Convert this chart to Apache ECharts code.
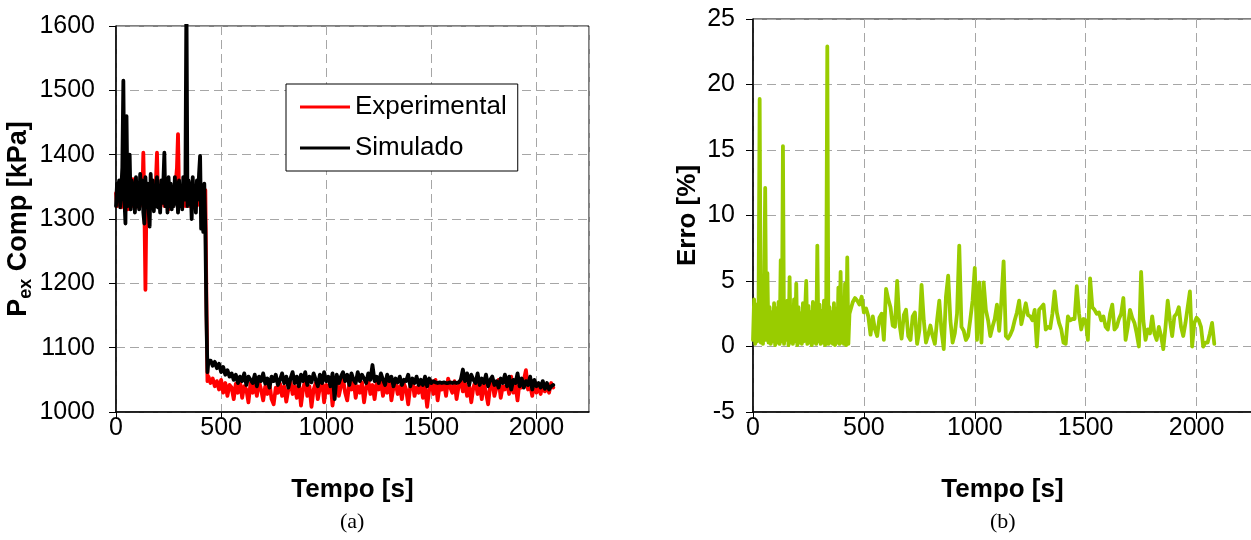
<!DOCTYPE html>
<html>
<head>
<meta charset="utf-8">
<script src="https://cdn.jsdelivr.net/npm/echarts@6/dist/echarts.min.js"></script>
<style>
html,body{margin:0;padding:0;background:#fff;}
#chart{width:1251px;height:540px;}
</style>
</head>
<body>
<div id="chart"></div>
<script>
// ---- sample times [s] ----
const timeDense = [0,5,10,15,20,25,30,35,40,45,50,55,60,65,70,75,80,85,90,95,
  100,105,110,115,120,125,130,135,140,145,150,155,160,165,170,175,180,185,190,195,
  200,205,210,215,220,225,230,235,240,245,250,255,260,265,270,275,280,285,290,295,
  300,305,310,315,320,325,330,335,340,345,350,355,360,365,370,375,380,385,390,395,
  400,405,410,415,420,425,430,435,440];
const timeCoarse = [450,460,470,480,490,500,510,520,530,540,
  550,560,570,580,590,600,610,620,630,640,
  650,660,670,680,690,700,710,720,730,740,
  750,760,770,780,790,800,810,820,830,840,
  850,860,870,880,890,900,910,920,930,940,
  950,960,970,980,990,1000,1010,1020,1030,1040,
  1050,1060,1070,1080,1090,1100,1110,1120,1130,1140,
  1150,1160,1170,1180,1190,1200,1210,1220,1230,1240,
  1250,1260,1270,1280,1290,1300,1310,1320,1330,1340,
  1350,1360,1370,1380,1390,1400,1410,1420,1430,1440,
  1450,1460,1470,1480,1490,1500,1510,1520,1530,1540,
  1550,1560,1570,1580,1590,1600,1610,1620,1630,1640,
  1650,1660,1670,1680,1690,1700,1710,1720,1730,1740,
  1750,1760,1770,1780,1790,1800,1810,1820,1830,1840,
  1850,1860,1870,1880,1890,1900,1910,1920,1930,1940,
  1950,1960,1970,1980,1990,2000,2010,2020,2030,2040,
  2050,2060,2070,2080];

// ---- Pex Comp [kPa], experimental ----
const expDense = [1340,1320,1355,1330,1345,1318,1360,1325,1350,1322,
  1340,1315,1355,1330,1345,1320,1362,1328,1348,1318,
  1352,1325,1345,1320,1358,1330,1403,1320,1190,1330,
  1350,1322,1345,1318,1355,1325,1348,1320,1360,1403,
  1330,1350,1318,1345,1325,1358,1320,1350,1328,1345,
  1315,1355,1325,1348,1320,1350,1330,1360,1380,1432,
  1335,1350,1322,1345,1328,1340,1320,1345,1325,1355,
  1320,1348,1330,1352,1318,1345,1328,1355,1322,1350,
  1330,1345,1325,1350,1340,1345,1180,1048,1055];
const expCoarse = [1045,1052,1040,1048,1035,1050,1030,1045,1025,1042,
  1038,1020,1044,1030,1048,1022,1040,1035,1015,1045,
  1030,1042,1025,1048,1035,1018,1040,1028,1045,1020,
  1012,1038,1030,1044,1025,1040,1016,1035,1048,1028,
  1040,1022,1045,1010,1036,1050,1025,1040,1008,1035,
  1045,1020,1038,1050,1015,1042,1030,1048,1010,1036,
  1044,1025,1040,1052,1030,1018,1045,1035,1050,1022,
  1040,1030,1046,1015,1038,1050,1028,1042,1020,1045,
  1035,1048,1025,1040,1030,1052,1018,1038,1045,1028,
  1040,1020,1044,1035,1012,1040,1048,1025,1038,1030,
  1045,1022,1040,1008,1035,1048,1028,1050,1018,1042,
  1035,1045,1025,1052,1038,1030,1048,1020,1040,1050,
  1032,1045,1025,1040,1015,1038,1048,1028,1042,1020,
  1045,1030,1012,1040,1048,1025,1038,1050,1022,1040,
  1035,1045,1028,1055,1030,1042,1018,1048,1038,1050,
  1065,1035,1042,1025,1048,1030,1040,1028,1045,1032,
  1040,1030,1045,1038];

// ---- Pex Comp [kPa], simulated ----
const simDense = [1320,1355,1330,1360,1318,1345,1380,1515,1330,1293,
  1460,1320,1350,1400,1315,1360,1325,1355,1310,1365,
  1320,1350,1315,1370,1330,1360,1310,1293,1365,1320,
  1355,1315,1288,1370,1325,1360,1312,1350,1320,1365,
  1318,1345,1310,1360,1325,1355,1403,1320,1350,1310,
  1365,1320,1355,1315,1345,1320,1365,1325,1355,1310,
  1360,1320,1350,1315,1365,1330,1345,1650,1320,1360,
  1325,1355,1300,1365,1320,1350,1310,1360,1330,1370,
  1398,1285,1350,1280,1355,1285,1150,1062,1080];
const simCoarse = [1080,1072,1078,1068,1075,1062,1070,1058,1065,1055,
  1060,1050,1058,1045,1055,1048,1060,1042,1055,1050,
  1045,1058,1040,1055,1048,1060,1044,1052,1038,1055,
  1048,1058,1042,1050,1060,1045,1055,1038,1052,1062,
  1045,1055,1040,1058,1048,1062,1042,1055,1046,1060,
  1050,1040,1058,1045,1062,1048,1055,1040,1060,1020,
  1058,1045,1055,1062,1048,1058,1042,1060,1050,1045,
  1062,1048,1058,1052,1045,1060,1050,1073,1048,1055,
  1045,1060,1050,1042,1058,1048,1055,1040,1052,1046,
  1055,1042,1050,1048,1058,1040,1052,1045,1055,1042,
  1050,1042,1055,1040,1052,1045,1048,1046,1045,1046,
  1045,1046,1045,1045,1046,1045,1046,1045,1046,1050,
  1066,1048,1060,1042,1058,1050,1045,1060,1042,1052,
  1045,1058,1040,1050,1055,1042,1048,1038,1052,1045,
  1058,1040,1055,1035,1050,1045,1060,1040,1052,1038,
  1048,1042,1055,1035,1050,1040,1045,1038,1048,1036,
  1045,1035,1040,1042];

// ---- Erro [%] ----
const errDense = [0.5,3.6,0.2,3.2,0.4,2.8,18.9,0.3,3.5,0.2,
  4.2,12.1,0.5,5.6,0.3,3.0,0.2,2.6,0.4,3.3,
  0.1,2.9,0.3,3.4,0.2,6.6,0.4,15.3,0.2,3.1,
  0.5,3.5,0.1,5.3,0.3,2.7,0.2,3.6,0.4,4.8,
  0.1,3.0,0.3,2.5,0.2,3.3,0.4,2.8,5.0,0.2,
  3.1,0.3,2.6,0.1,3.4,0.3,2.9,0.2,7.7,0.4,
  3.2,0.2,2.7,0.3,3.5,0.1,2.8,22.9,0.2,3.0,
  0.3,2.6,0.2,3.3,0.1,2.9,0.3,4.5,0.2,5.7,
  0.3,3.6,0.2,4.8,0.1,6.8,0.2,2.5,2.8];
const errCoarse = [3.4,3.7,3.5,3.2,3.8,2.6,2.9,2.3,0.9,2.3,
  1.3,0.8,2.2,2.5,0.5,4.4,3.6,3.0,1.6,1.5,
  5.0,1.8,0.6,2.4,2.8,0.8,0.5,2.3,2.6,0.2,
  1.2,4.7,2.0,0.3,0.9,1.6,0.8,0.2,2.0,3.5,
  1.2,-0.2,3.8,5.4,2.0,0.3,1.0,2.5,7.7,1.5,
  1.2,0.5,0.8,2.1,3.5,6.0,0.5,4.9,0.3,4.9,
  2.8,2.0,0.8,1.5,2.1,3.2,1.2,3.5,6.5,0.8,
  0.6,0.9,1.3,2.0,2.6,3.5,1.7,2.5,3.3,2.4,
  2.3,2.0,2.8,0.0,2.8,3.0,3.2,1.3,1.5,1.4,
  2.5,4.2,2.6,1.8,1.3,0.3,0.2,2.3,2.0,2.1,
  2.1,4.6,2.5,1.3,2.1,2.0,0.5,5.2,3.0,2.8,
  2.5,2.6,2.0,2.3,1.5,1.3,2.5,3.2,1.3,1.5,
  2.1,2.5,3.7,0.5,1.5,2.8,2.2,1.8,1.0,0.0,
  5.7,2.0,0.5,1.3,1.0,2.3,1.0,0.5,1.5,0.8,
  -0.2,1.5,3.5,2.0,0.8,2.3,2.5,3.0,1.5,0.8,
  1.8,3.0,4.2,0.0,1.8,2.2,2.0,1.5,0.0,0.3,
  0.3,1.0,1.8,0.2];

// ---- axis ticks ----
const xTicks = {min: 0, max: 2250, interval: 500};
const yTicksLeft = {min: 1000, max: 1600, interval: 100};
const yTicksRight = {min: -5, max: 25, interval: 5};

const seriesNames = ['Experimental', 'Simulado'];
const panelLabels = ['(a)', '(b)'];

const times = timeDense.concat(timeCoarse);
const pairs = (vals) => times.map((t, i) => [t, vals[i]]);
const expData = pairs(expDense.concat(expCoarse));
const simData = pairs(simDense.concat(simCoarse));
const errData = pairs(errDense.concat(errCoarse));

const FONT = "'Liberation Sans', Arial, sans-serif";
const grid0 = {left: 116, top: 26, width: 473, height: 386};
const grid1 = {left: 753, top: 19, width: 499, height: 393};
const plain = (v) => String(v);
const TICK_FS = 25, NAME_FS = 26;

function xAxisCfg(idx) {
  return {
    gridIndex: idx, type: 'value',
    min: xTicks.min, max: xTicks.max, interval: xTicks.interval,
    name: 'Tempo [s]', nameLocation: 'middle', nameGap: 65,
    nameTextStyle: {fontFamily: FONT, fontSize: NAME_FS, fontWeight: 'bold', color: '#000'},
    axisLine: {show: true, onZero: false, lineStyle: {color: '#000', width: 1.5}},
    axisTick: {show: true, inside: false, length: 7, lineStyle: {color: '#000', width: 1}},
    axisLabel: {show: true, color: '#000', fontFamily: FONT, fontSize: TICK_FS, margin: 4,
      showMaxLabel: false, hideOverlap: false, formatter: plain},
    splitLine: {show: true, lineStyle: {color: '#a6a6a6', width: 1, type: [9, 5]}}
  };
}
function yAxisCfg(idx, ticks, name, gap, margin, rich) {
  const ax = {
    gridIndex: idx, type: 'value',
    min: ticks.min, max: ticks.max, interval: ticks.interval,
    name: name, nameLocation: 'middle', nameGap: gap,
    nameTextStyle: {fontFamily: FONT, fontSize: NAME_FS, fontWeight: 'bold', color: '#000'},
    axisLine: {show: true, onZero: false, lineStyle: {color: '#000', width: 1.5}},
    axisTick: {show: true, inside: false, length: 7, lineStyle: {color: '#000', width: 1}},
    axisLabel: {show: true, color: '#000', fontFamily: FONT, fontSize: TICK_FS, margin: margin,
      hideOverlap: false, formatter: plain},
    splitLine: {show: true, lineStyle: {color: '#a6a6a6', width: 1, type: [9, 5]}}
  };
  if (rich) ax.nameTextStyle.rich = rich;
  return ax;
}

const chart = echarts.init(document.getElementById('chart'), null, {renderer: 'canvas'});
const option = {
  animation: false,
  backgroundColor: '#fff',
  grid: [
    Object.assign({show: true, borderColor: '#000', borderWidth: 1, backgroundColor: 'transparent', containLabel: false, outerBoundsMode: 'none'}, grid0),
    Object.assign({show: true, borderColor: '#000', borderWidth: 1, backgroundColor: 'transparent', containLabel: false, outerBoundsMode: 'none'}, grid1)
  ],
  xAxis: [xAxisCfg(0), xAxisCfg(1)],
  yAxis: [
    yAxisCfg(0, yTicksLeft, '{a|P}{s|ex}{a| Comp [kPa]}', 79, 21, {
      a: {fontFamily: FONT, fontSize: 27, fontWeight: 'bold', color: '#000', lineHeight: 28, verticalAlign: 'bottom'},
      s: {fontFamily: FONT, fontSize: 18, fontWeight: 'bold', color: '#000', lineHeight: 20, verticalAlign: 'bottom', padding: [0, 0, -3, 0]}
    }),
    yAxisCfg(1, yTicksRight, 'Erro [%]', 52, 18)
  ],
  legend: {
    show: true, orient: 'vertical', left: 286, top: 84,
    padding: [10, 11, 10, 14], itemGap: 15, itemWidth: 50, itemHeight: 3,
    icon: 'rect', backgroundColor: '#fff', borderColor: '#000', borderWidth: 1,
    textStyle: {fontFamily: FONT, fontSize: 26, color: '#000', lineHeight: 26},
    data: seriesNames, selectedMode: false
  },
  graphic: [
    {type: 'text', left: 340, top: 511, style: {text: panelLabels[0], font: "22px 'Liberation Serif', 'Times New Roman', serif", fill: '#000'}},
    {type: 'text', left: 990, top: 511, style: {text: panelLabels[1], font: "22px 'Liberation Serif', 'Times New Roman', serif", fill: '#000'}}
  ],
  series: [
    {name: seriesNames[0], type: 'line', xAxisIndex: 0, yAxisIndex: 0, data: expData,
      symbol: 'none', showSymbol: false, color: '#ff0000', clip: true, z: 2,
      lineStyle: {color: '#ff0000', width: 3.8, join: 'round', cap: 'round'}},
    {name: seriesNames[1], type: 'line', xAxisIndex: 0, yAxisIndex: 0, data: simData,
      symbol: 'none', showSymbol: false, color: '#000000', clip: true, z: 3,
      lineStyle: {color: '#000000', width: 3.8, join: 'round', cap: 'round'}},
    {name: 'Erro', type: 'line', xAxisIndex: 1, yAxisIndex: 1, data: errData,
      symbol: 'none', showSymbol: false, color: '#99cc00', clip: true, z: 2,
      lineStyle: {color: '#99cc00', width: 3.8, join: 'round', cap: 'round'}}
  ]
};
chart.setOption(option);
</script>
</body>
</html>
